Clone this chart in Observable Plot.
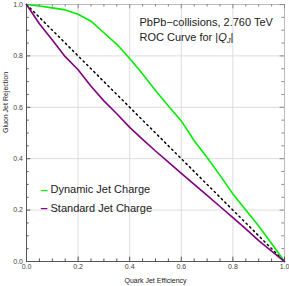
<!DOCTYPE html>
<html><head><meta charset="utf-8">
<script src="https://cdn.jsdelivr.net/npm/d3@7"></script>
<script src="https://cdn.jsdelivr.net/npm/@observablehq/plot@0.6"></script>
<style>body{margin:0;background:#fff;font-family:"Liberation Sans",Arial,sans-serif}</style>
</head><body><div id="chart"></div>
<script>
const efficiency        = [0, 0.05, 0.1, 0.15, 0.2, 0.25, 0.3, 0.35, 0.4, 0.45, 0.5, 0.55, 0.6, 0.65, 0.7, 0.75, 0.8, 0.85, 0.9, 0.95, 1.0];
const dynamicRejection  = [1.0, 0.994, 0.987, 0.979, 0.962, 0.935, 0.89, 0.845, 0.79, 0.73, 0.665, 0.605, 0.547, 0.47, 0.405, 0.335, 0.263, 0.2, 0.138, 0.07, 0.0];
const standardRejection = [1.0, 0.925, 0.862, 0.797, 0.746, 0.682, 0.625, 0.575, 0.522, 0.475, 0.43, 0.387, 0.343, 0.3, 0.257, 0.214, 0.171, 0.127, 0.081, 0.04, 0.0];
const diagonalX = [0, 1];
const diagonalY = [1, 0];
const seriesNames  = ["Dynamic Jet Charge", "Standard Jet Charge"];
const seriesColors = ["#00ee00", "#800080"];
const majorTicks = [0, 0.2, 0.4, 0.6, 0.8, 1.0];
const minorTicks = [0.05, 0.1, 0.15, 0.25, 0.3, 0.35, 0.45, 0.5, 0.55, 0.65, 0.7, 0.75, 0.85, 0.9, 0.95];
const titleLine1 = "PbPb\u2212collisions, 2.760 TeV";
const titleLine2 = "ROC Curve for |QJ|";
const xLabel = "Quark Jet Efficiency";
const yLabel = "Gluon Jet Rejection";

const curves = [dynamicRejection, standardRejection].flatMap((ys, i) =>
  efficiency.map((x, j) => ({x, y: ys[j], s: seriesNames[i]})));
const diag = diagonalX.map((x, i) => ({x, y: diagonalY[i]}));
const MAJ = 0.017, MIN = 0.01;
const ticks = [...majorTicks.map(v => ({v, l: MAJ})), ...minorTicks.map(v => ({v, l: MIN}))];

const legendMarks = seriesNames.flatMap((name, i) => [
  Plot.text([name], {frameAnchor: "top-left", dx: 24, dy: 181 + i * 18.5, textAnchor: "start", fontSize: 11, fill: "#222"}),
  Plot.text(["\u2013"], {frameAnchor: "top-left", dx: 14, dy: 180 + i * 18.5, textAnchor: "start", fontSize: 13, fill: seriesColors[i], fontWeight: "bold"})
]);

const chart = Plot.plot({
  width: 289, height: 286,
  marginLeft: 26, marginRight: 5, marginTop: 4, marginBottom: 25,
  x: {domain: [0, 1], axis: null},
  y: {domain: [0, 1], axis: null},
  color: {domain: seriesNames, range: seriesColors},
  style: {fontFamily: "'Liberation Sans', Arial, sans-serif", background: "#fff"},
  marks: [
    Plot.ruleX(majorTicks, {stroke: "#ddd", strokeWidth: 1}),
    Plot.ruleY(majorTicks, {stroke: "#ddd", strokeWidth: 1}),
    Plot.ruleX([1], {stroke: "#bbb"}),
    Plot.ruleY([1], {stroke: "#bbb"}),
    Plot.ruleX(ticks, {x: "v", y1: 0, y2: "l", stroke: "#555"}),
    Plot.ruleX(ticks, {x: "v", y1: 1, y2: d => 1 - d.l, stroke: "#888"}),
    Plot.ruleY(ticks, {y: "v", x1: 0, x2: "l", stroke: "#555"}),
    Plot.ruleY(ticks, {y: "v", x1: 1, x2: d => 1 - d.l, stroke: "#888"}),
    Plot.ruleX([0], {stroke: "#555"}),
    Plot.ruleY([0], {stroke: "#555"}),
    Plot.axisX(majorTicks, {tickSize: 0, tickPadding: 3, tickFormat: d3.format(".1f"), fontSize: 7, color: "#444"}),
    Plot.axisY(majorTicks, {tickSize: 0, tickPadding: 3.5, tickFormat: d3.format(".1f"), fontSize: 7, color: "#444"}),
    Plot.line(diag, {x: "x", y: "y", stroke: "#000", strokeWidth: 1.5, strokeDasharray: "1.5,3.5"}),
    Plot.line(curves, {x: "x", y: "y", z: "s", stroke: "s", strokeWidth: 1.6}),
    Plot.text([xLabel], {frameAnchor: "bottom", dy: 21, fontSize: 7, fill: "#222"}),
    Plot.text([yLabel], {frameAnchor: "left", dx: -21, rotate: -90, fontSize: 7, fill: "#222"}),
    Plot.text([titleLine1], {frameAnchor: "top-left", dx: 113, dy: 14, textAnchor: "start", fontSize: 11, fill: "#222"}),
    Plot.text([titleLine2], {frameAnchor: "top-left", dx: 113, dy: 29, textAnchor: "start", fontSize: 11, fill: "#222"}),
    ...legendMarks
  ]
});
document.getElementById("chart").append(chart);
// italic Q with subscript J
chart.querySelectorAll("text").forEach(t => {
  if (t.textContent === titleLine2) {
    t.innerHTML = 'ROC Curve for |<tspan font-style="italic">Q</tspan><tspan font-style="italic" font-size="7.5" dy="2">J</tspan><tspan dy="-2">|</tspan>';
  }
});
</script>
</body></html>
